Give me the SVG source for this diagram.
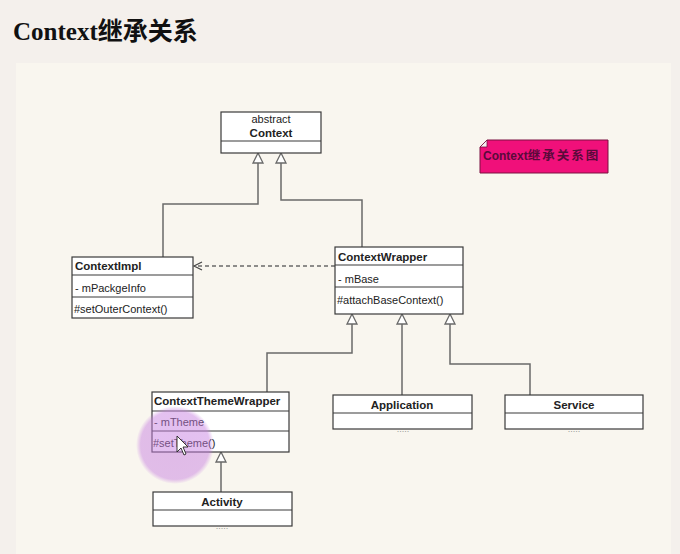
<svg xmlns="http://www.w3.org/2000/svg" width="680" height="554" viewBox="0 0 680 554">
<defs>
<style>
.box{fill:#fff;stroke:#3a3a3a;stroke-width:1.2}
.div{stroke:#3a3a3a;stroke-width:1.2}
.ln{fill:none;stroke:#6a6a6a;stroke-width:1.5}
.tri{fill:#fff;stroke:#6a6a6a;stroke-width:1.3}
.t{font-family:"Liberation Sans",Arial,sans-serif;font-size:11px;fill:#222}
.b{font-weight:bold;font-size:11.5px}
.c{text-anchor:middle}
.dots{font-family:"Liberation Sans",Arial,sans-serif;font-size:9px;fill:#999;text-anchor:middle}
</style>
<radialGradient id="glow" cx="0.5" cy="0.5" r="0.5">
<stop offset="0" stop-color="#c67ee0" stop-opacity="0.5"/>
<stop offset="0.88" stop-color="#c67ee0" stop-opacity="0.48"/>
<stop offset="1" stop-color="#c67ee0" stop-opacity="0"/>
</radialGradient>
</defs>
<rect x="0" y="0" width="680" height="554" fill="#f4f0ec"/>
<rect x="16" y="63" width="655" height="491" fill="#f9f6ef"/>
<text x="13" y="40" font-family="'Liberation Serif','Noto Sans CJK SC',serif" font-weight="bold" font-size="25" fill="#111">Context继承关系</text>

<g id="connectors">
<polyline class="ln" points="258,163 258,204 163,204 163,257"/>
<polyline class="ln" points="281,163 281,200 362,200 362,247"/>
<line class="ln" x1="335" y1="266" x2="195" y2="266" stroke-dasharray="4,3" stroke-width="1.2" stroke="#444"/>
<polyline fill="none" stroke="#444" stroke-width="1.2" points="202,262 194,266 202,270"/>
<polyline class="ln" points="352,324 352,353 267,353 267,392"/>
<line class="ln" x1="402" y1="324" x2="402" y2="395"/>
<polyline class="ln" points="450,324 450,364 530,364 530,395"/>
<line class="ln" x1="221" y1="462" x2="221" y2="492"/>
<polygon class="tri" points="258,153 253,163 263,163"/>
<polygon class="tri" points="281,153 276,163 286,163"/>
<polygon class="tri" points="352,314 347,324 357,324"/>
<polygon class="tri" points="402,314 397,324 407,324"/>
<polygon class="tri" points="450,314 445,324 455,324"/>
<polygon class="tri" points="221,452 216,462 226,462"/>
</g>

<g id="context">
<rect class="box" x="221" y="112" width="100" height="41"/>
<line class="div" x1="221" y1="141" x2="321" y2="141"/>
<text class="t c" x="271" y="123">abstract</text>
<text class="t b c" x="271" y="137">Context</text>
</g>

<g id="note">
<polygon points="487,140 608,140 608,173 480,173 480,147" fill="#f0107a" stroke="#7a1040" stroke-width="1"/>
<polygon points="480,147 487,140 487,147" fill="#f4f0f0" stroke="#7a1040" stroke-width="0.8"/>
<text x="483" y="160" font-family="'Liberation Sans','Noto Sans CJK SC',sans-serif" font-weight="bold" font-size="12" fill="#5a0a3a">Context<tspan font-size="12.5" letter-spacing="2">继承关系图</tspan></text>
</g>

<g id="contextimpl">
<rect class="box" x="72" y="257" width="121" height="61"/>
<line class="div" x1="72" y1="275" x2="193" y2="275"/>
<line class="div" x1="72" y1="297" x2="193" y2="297"/>
<text class="t b" x="75" y="270">ContextImpl</text>
<text class="t" x="75" y="292">- mPackgeInfo</text>
<text class="t" x="74" y="313">#setOuterContext()</text>
</g>

<g id="contextwrapper">
<rect class="box" x="335" y="247" width="128" height="67"/>
<line class="div" x1="335" y1="265" x2="463" y2="265"/>
<line class="div" x1="335" y1="287" x2="463" y2="287"/>
<text class="t b" x="338" y="261">ContextWrapper</text>
<text class="t" x="338" y="283">- mBase</text>
<text class="t" x="337" y="304">#attachBaseContext()</text>
</g>

<g id="contextthemewrapper">
<rect class="box" x="152" y="392" width="137" height="60"/>
<line class="div" x1="152" y1="411" x2="289" y2="411"/>
<line class="div" x1="152" y1="431" x2="289" y2="431"/>
<text class="t b" x="154" y="405">ContextThemeWrapper</text>
<text class="t" x="154" y="426">- mTheme</text>
<text class="t" x="153" y="447">#setTheme()</text>
</g>

<g id="application">
<text class="dots" x="403" y="432">.....</text>
<rect class="box" x="333" y="395" width="139" height="34"/>
<line class="div" x1="333" y1="413" x2="472" y2="413"/>
<text class="t b c" x="402" y="409">Application</text>
</g>

<g id="service">
<text class="dots" x="574" y="432">.....</text>
<rect class="box" x="505" y="395" width="138" height="34"/>
<line class="div" x1="505" y1="413" x2="643" y2="413"/>
<text class="t b c" x="574" y="409">Service</text>
</g>

<g id="activity">
<text class="dots" x="222" y="529">.....</text>
<rect class="box" x="153" y="492" width="139" height="34"/>
<line class="div" x1="153" y1="510" x2="292" y2="510"/>
<text class="t b c" x="222" y="506">Activity</text>
</g>

<circle cx="175" cy="445" r="39" fill="url(#glow)"/>
<polygon points="177,436 177,452 181,448 184,455 186,454 183,447 188,447" fill="#fff" stroke="#222" stroke-width="0.9"/>
</svg>
